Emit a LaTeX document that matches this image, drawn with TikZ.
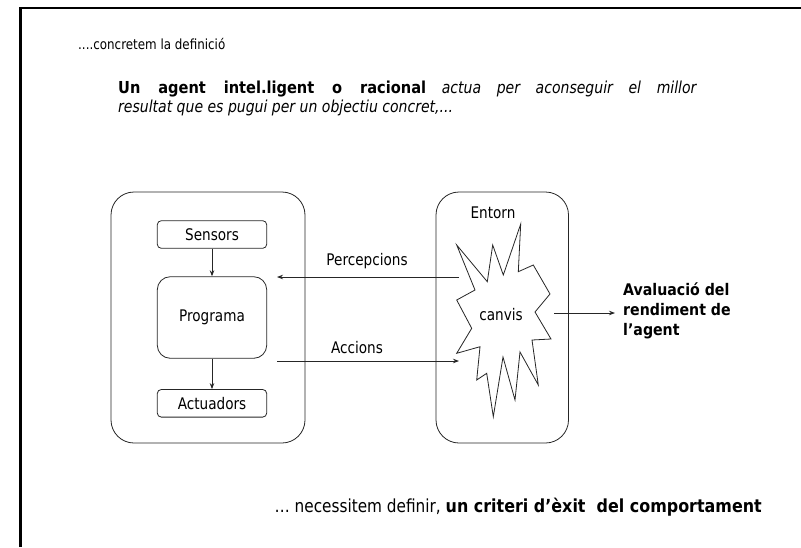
\documentclass[tikz,border=0pt]{standalone}
\usepackage{fontspec}
\setmainfont{DejaVu Sans}[
  UprightFeatures={FakeStretch=0.85},
  ItalicFeatures={FakeStretch=0.85},
  BoldFeatures={FakeStretch=0.885},
  BoldItalicFeatures={FakeStretch=0.885}]
\usetikzlibrary{arrows.meta}
\begin{document}
\begin{tikzpicture}[x=1pt,y=-1pt,
  line/.style={draw=black!85, line width=0.8pt},
  arr/.style={line, -{Stealth[length=6pt,width=4.5pt]}},
  txt/.style={font=\fontsize{16}{20}\selectfont, inner sep=0pt},
  headtxt/.style={txt, font=\fontsize{16.5}{20}\selectfont, anchor=base west},
  smallbox/.style={line, txt, rounded corners=4pt, minimum width=109.4pt, minimum height=27.6pt},
  bigbox/.style={line, rounded corners=23pt},
]
\useasboundingbox (0,0) rectangle (801,547);

% slide frame
\draw[line width=2.5pt] (20.5,547) -- (20.5,8) -- (801,8);

% heading text
\node[txt, font=\fontsize{14}{17}\selectfont, anchor=base west] (intro) at (78,49) {....concretem la definició};
\node[headtxt] (def1) at (118,93)
  {\makebox[579pt][s]{\textbf{Un agent intel.ligent o racional} \textit{actua per aconseguir el millor}}};
\node[headtxt] (def2) at (118,112) {\textit{resultat que es pugui per un objectiu concret,...}};

% agent
\node[bigbox, minimum width=194pt, minimum height=251pt] (agent) at (208,317.5) {};
\node[smallbox] (sensors) at (212,234.5) {Sensors};
\node[smallbox, rounded corners=13pt, minimum height=81.6pt] (programa) at (212,317.5) {Programa};
\node[smallbox] (actuadors) at (212,403.3) {Actuadors};
\draw[arr] (sensors) -- (programa);
\draw[arr] (programa) -- (actuadors);

% environment
\node[bigbox, minimum width=132.5pt, minimum height=251pt] (entorn) at (502.25,317.5) {};
\node[txt] (entornlbl) at (493,213) {Entorn};
\draw[line, fill=white]
  (456.7,245) -- (487.3,281.7) -- (492.7,245) -- (503.3,275) -- (520.7,224)
  -- (518.3,271.7) -- (533.3,265) -- (550,294) -- (535,312) -- (551,339)
  -- (532,340) -- (538.3,385) -- (520,352) -- (515,400) -- (503,357)
  -- (493.3,416.7) -- (486.7,373.3) -- (476.7,380) -- (480,346.7) -- (456.7,353.3)
  -- (471.7,328.3) -- (456.7,300) -- (475,290) -- cycle;
\node[txt] (canvis) at (501,315) {canvis};

% interactions
\coordinate (percfrom) at (459,277);
\coordinate (percto) at (277,277);
\coordinate (accfrom) at (277,361);
\coordinate (accto) at (459,361);
\draw[arr] (percfrom) -- node[txt, above=8pt, xshift=-1pt] (perclbl) {Percepcions} (percto);
\draw[arr] (accfrom) -- node[txt, above=7pt, xshift=-11pt] (acclbl) {Accions} (accto);

% evaluation
\node[txt, font=\fontsize{16}{20}\selectfont\bfseries, align=left, anchor=west] (eval) at (623,311) {Avaluació del\\rendiment de\\l’agent};
\coordinate (evalfrom) at (554,313);
\draw[arr, shorten >=8pt] (evalfrom) -- (evalfrom -| eval.west);

% conclusion
\node[txt, font=\fontsize{18}{21}\selectfont, anchor=base east] (conclusion) at (762,512) {… necessitem definir, \textbf{un criteri d’èxit\ \ del comportament}};
\end{tikzpicture}
\end{document}
